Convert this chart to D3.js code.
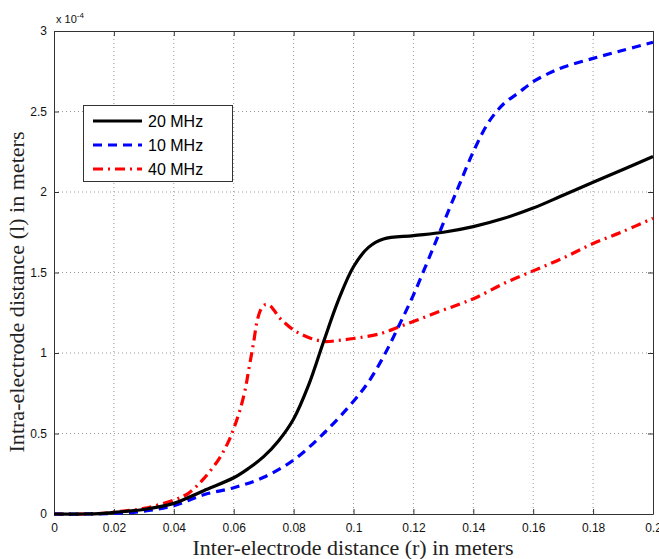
<!DOCTYPE html>
<html><head><meta charset="utf-8">
<script src="https://cdn.jsdelivr.net/npm/d3@7"></script>
<style>body{margin:0;background:#fff}svg{display:block}</style>
</head><body><svg id="c" width="659" height="559"></svg>
<script>
const xTicks = [0,0.02,0.04,0.06,0.08,0.1,0.12,0.14,0.16,0.18,0.2];
const xTickLabels = ["0","0.02","0.04","0.06","0.08","0.1","0.12","0.14","0.16","0.18","0.2"];
const yTicks = [0,0.5,1,1.5,2,2.5,3];
const yTickLabels = ["0","0.5","1","1.5","2","2.5","3"];
const seriesNames = ["20 MHz","10 MHz","40 MHz"];
// values in units of 1e-4 m
const r20 = [0,0.01,0.015,0.02,0.03,0.04,0.05,0.06,0.065,0.07,0.075,0.08,0.085,0.09,0.095,0.1,0.105,0.11,0.12,0.13,0.14,0.15,0.16,0.17,0.18,0.19,0.2];
const l20 = [0,0,0.002,0.01,0.028,0.066,0.145,0.225,0.284,0.356,0.455,0.59,0.80,1.07,1.33,1.536,1.656,1.708,1.729,1.75,1.785,1.835,1.90,1.98,2.06,2.14,2.22];
const r10 = [0,0.01,0.02,0.03,0.04,0.05,0.06,0.07,0.08,0.09,0.1,0.105,0.11,0.115,0.12,0.125,0.13,0.135,0.14,0.145,0.15,0.155,0.16,0.165,0.17,0.18,0.19,0.2];
const l10 = [0,0,0.003,0.018,0.052,0.12,0.163,0.228,0.335,0.50,0.70,0.82,0.977,1.163,1.36,1.58,1.806,2.03,2.25,2.43,2.545,2.615,2.685,2.735,2.775,2.83,2.88,2.93];
const r40 = [0,0.01,0.015,0.02,0.03,0.04,0.045,0.05,0.055,0.058,0.06,0.062,0.0638,0.0652,0.0666,0.0679,0.0692,0.0705,0.072,0.0735,0.075,0.08,0.085,0.09,0.095,0.1,0.109,0.1155,0.122,0.129,0.1356,0.141,0.15,0.16,0.17,0.18,0.19,0.2];
const l40 = [0,0,0.003,0.012,0.035,0.087,0.13,0.22,0.34,0.44,0.53,0.64,0.77,0.915,1.06,1.205,1.275,1.30,1.295,1.265,1.225,1.143,1.097,1.072,1.078,1.09,1.12,1.165,1.21,1.26,1.305,1.345,1.43,1.51,1.59,1.68,1.755,1.837];

const svg = d3.select("#c");
const L=54,R=653,T=31,B=514;
const x = d3.scaleLinear().domain([0,0.2]).range([L,R]);
const y = d3.scaleLinear().domain([0,3]).range([B,T]);
const tickFont = "'Liberation Sans', Arial, sans-serif";

// grid
const g = svg.append("g");
g.selectAll("line.vx").data(xTicks.slice(1,-1)).enter().append("line")
  .attr("x1",d=>x(d)).attr("x2",d=>x(d)).attr("y1",T).attr("y2",B)
  .attr("stroke","#9a9a9a").attr("stroke-width",1).attr("stroke-dasharray","1,3");
g.selectAll("line.hy").data(yTicks.slice(1,-1)).enter().append("line")
  .attr("y1",d=>y(d)).attr("y2",d=>y(d)).attr("x1",L).attr("x2",R)
  .attr("stroke","#9a9a9a").attr("stroke-width",1).attr("stroke-dasharray","1,3");

// axes
const xAxB = d3.axisBottom(x).tickValues(xTicks).tickFormat((d,i)=>xTickLabels[i]).tickSizeInner(-5).tickSizeOuter(0).tickPadding(9);
const xAxT = d3.axisTop(x).tickValues(xTicks).tickFormat("").tickSizeInner(-5).tickSizeOuter(0);
const yAxL = d3.axisLeft(y).tickValues(yTicks).tickFormat((d,i)=>yTickLabels[i]).tickSizeInner(-5).tickSizeOuter(0).tickPadding(7);
const yAxR = d3.axisRight(y).tickValues(yTicks).tickFormat("").tickSizeInner(-5).tickSizeOuter(0);
function style(sel){sel.selectAll("path").attr("stroke","#333");sel.selectAll("line").attr("stroke","#333");
  sel.selectAll("text").attr("font-family",tickFont).attr("font-size",12).attr("fill","#111");}
svg.append("g").attr("transform",`translate(0,${B})`).call(xAxB).call(style);
svg.append("g").attr("transform",`translate(0,${T})`).call(xAxT).call(style);
svg.append("g").attr("transform",`translate(${L},0)`).call(yAxL).call(style);
svg.append("g").attr("transform",`translate(${R},0)`).call(yAxR).call(style);

// multiplier
const mt = svg.append("text").attr("x",L+2).attr("y",23).attr("font-family",tickFont).attr("font-size",11).attr("fill","#111");
mt.append("tspan").text("x 10");
mt.append("tspan").attr("dy",-5).attr("font-size",8).text("-4");

// clip
svg.append("clipPath").attr("id","clip").append("rect").attr("x",L).attr("y",T-2).attr("width",R-L+2).attr("height",B-T+4);
const line = d3.line().x(d=>x(d[0])).y(d=>y(d[1])).curve(d3.curveCatmullRom.alpha(0.5));
const series = [
  {name:seriesNames[0], r:r20, l:l20, color:"#000", dash:null},
  {name:seriesNames[1], r:r10, l:l10, color:"#0000ff", dash:"9,6"},
  {name:seriesNames[2], r:r40, l:l40, color:"#ff0000", dash:"10,5,2,5"}
];
const lg = svg.append("g").attr("clip-path","url(#clip)");
[series[2],series[1],series[0]].forEach(s=>{
  lg.append("path").datum(s.r.map((v,i)=>[v,s.l[i]]))
   .attr("d",line).attr("fill","none").attr("stroke",s.color).attr("stroke-width",3.2)
   .attr("stroke-dasharray",s.dash);
});

// legend
const leg = svg.append("g");
leg.append("rect").attr("x",83.5).attr("y",105.5).attr("width",149).attr("height",76)
  .attr("fill","#fff").attr("stroke","#333").attr("stroke-width",1);
series.forEach((s,i)=>{
  const yy = 121 + i*24;
  leg.append("line").attr("x1",93).attr("x2",142).attr("y1",yy).attr("y2",yy)
    .attr("stroke",s.color).attr("stroke-width",3.2).attr("stroke-dasharray",s.dash);
  leg.append("text").attr("x",148).attr("y",yy+6).attr("font-family",tickFont).attr("font-size",16).attr("fill","#000").text(s.name);
});

// axis labels
const serif = "'Liberation Serif','DejaVu Serif',serif";
svg.append("text").attr("x",353).attr("y",555).attr("text-anchor","middle").attr("font-family",serif)
  .attr("font-size",20.5).attr("fill","#222").attr("textLength",321).attr("lengthAdjust","spacingAndGlyphs")
  .text("Inter-electrode distance (r) in meters");
svg.append("text").attr("transform","translate(24,292) rotate(-90)").attr("text-anchor","middle").attr("font-family",serif)
  .attr("font-size",20.5).attr("fill","#222").attr("textLength",321).attr("lengthAdjust","spacingAndGlyphs")
  .text("Intra-electrode distance (l) in meters");
</script></body></html>
